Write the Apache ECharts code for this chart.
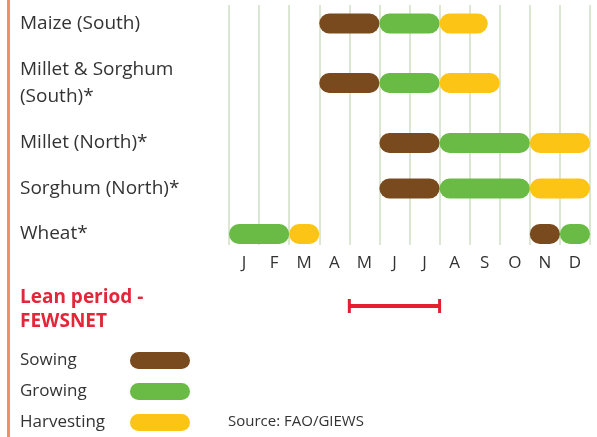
<!DOCTYPE html>
<html>
<head>
<meta charset="utf-8">
<script src="https://cdn.jsdelivr.net/npm/echarts@6/dist/echarts.min.js"></script>
<style>
html,body{margin:0;padding:0;background:#fff;}
#chart{width:597px;height:437px;}
</style>
</head>
<body>
<div id="chart"></div>
<script>
// ---- Data ----
const crops = ['Maize (South)', 'Millet & Sorghum\n(South)*', 'Millet (North)*', 'Sorghum (North)*', 'Wheat*'];
const months = ['J', 'F', 'M', 'A', 'M', 'J', 'J', 'A', 'S', 'O', 'N', 'D'];
// intervals in months (0 = start of January, 12 = end of December)
const sowing = [[[3, 5]], [[3, 5]], [[5, 7]], [[5, 7]], [[10, 11]]];
const growing = [[[5, 7]], [[5, 7]], [[7, 10]], [[7, 10]], [[0, 2], [11, 12]]];
const harvesting = [[[7, 8.6]], [[7, 9]], [[10, 12]], [[10, 12]], [[2, 3]]];
const leanPeriod = [4, 7];
const leanLabel = 'Lean period -\nFEWSNET';
const stageNames = ['Sowing', 'Growing', 'Harvesting'];
const source = 'Source: FAO/GIEWS';

// ---- Layout / style ----
const stageColors = ['#7a4a1f', '#69bb45', '#fcc515'];
const rowCenters = [23.5, 83, 143, 188.5, 234];
const leanCenter = 310;
const plotLeft = 229, plotRight = 7;
const barH = 20;
const FONT = 'Open Sans';

const chart = echarts.init(document.getElementById('chart'), null, {renderer: 'canvas'});

const grids = [{left: plotLeft, right: plotRight, top: 5, height: 240}];
const xAxes = [
  {gridIndex: 0, type: 'value', min: 0, max: 12, interval: 1,
   axisLine: {show: false}, axisTick: {show: false}, axisLabel: {show: false},
   splitLine: {show: true, lineStyle: {color: '#dce7d3', width: 2}}},
  {gridIndex: 0, type: 'category', data: months, position: 'bottom', boundaryGap: true,
   axisLine: {show: false}, axisTick: {show: false},
   axisLabel: {margin: 10, fontSize: 17, color: '#333', fontFamily: FONT}}
];
const yAxes = [{gridIndex: 0, type: 'value', show: false, min: 0, max: 1}];
const series = [];

function segRender(params, api) {
  const s = api.coord([api.value(0), api.value(2)]);
  const e = api.coord([api.value(1), api.value(2)]);
  return {
    type: 'rect',
    shape: {x: s[0], y: s[1] - barH / 2, width: e[0] - s[0], height: barH, r: barH / 2},
    style: {fill: api.visual('color')}
  };
}

const stages = [sowing, growing, harvesting];
crops.forEach((crop, i) => {
  const gi = grids.length;
  grids.push({left: plotLeft, right: plotRight, top: rowCenters[i] - barH / 2, height: barH});
  xAxes.push({gridIndex: gi, type: 'value', min: 0, max: 12, show: false});
  yAxes.push({gridIndex: gi, type: 'category', data: [crop],
    axisLine: {show: false}, axisTick: {show: false}, splitLine: {show: false},
    axisLabel: {align: 'left', margin: plotLeft - 20, fontSize: 19, lineHeight: 27,
      color: '#333', fontFamily: FONT}});
  const xi = xAxes.length - 1, yi = yAxes.length - 1;
  stages.forEach((st, k) => {
    series.push({
      type: 'custom', name: stageNames[k], xAxisIndex: xi, yAxisIndex: yi,
      itemStyle: {color: stageColors[k]},
      encode: {x: [0, 1], y: 2},
      renderItem: segRender,
      data: st[i].map(iv => [iv[0], iv[1], 0])
    });
  });
});

// lean period row
{
  const gi = grids.length;
  grids.push({left: plotLeft, right: plotRight, top: leanCenter - 10, height: 20});
  xAxes.push({gridIndex: gi, type: 'value', min: 0, max: 12, show: false});
  yAxes.push({gridIndex: gi, type: 'category', data: [leanLabel],
    axisLine: {show: false}, axisTick: {show: false}, splitLine: {show: false},
    axisLabel: {align: 'left', margin: plotLeft - 20, fontSize: 19, lineHeight: 24,
      fontWeight: 'bold', color: '#e3263a', fontFamily: FONT}});
  series.push({
    type: 'custom', name: 'Lean period', xAxisIndex: xAxes.length - 1, yAxisIndex: yAxes.length - 1,
    encode: {x: [0, 1], y: 2},
    renderItem: function (params, api) {
      const s = api.coord([api.value(0), api.value(2)]);
      const e = api.coord([api.value(1), api.value(2)]);
      const c = '#e3202f';
      const y = s[1] - 4;
      return {type: 'group', children: [
        {type: 'line', shape: {x1: s[0], y1: y, x2: e[0], y2: y}, style: {stroke: c, lineWidth: 4}},
        {type: 'line', shape: {x1: s[0], y1: y - 7, x2: s[0], y2: y + 7}, style: {stroke: c, lineWidth: 3}},
        {type: 'line', shape: {x1: e[0], y1: y - 7, x2: e[0], y2: y + 7}, style: {stroke: c, lineWidth: 3}}
      ]};
    },
    data: [[leanPeriod[0], leanPeriod[1], 0]]
  });
}

chart.setOption({
  animation: false,
  grid: grids,
  xAxis: xAxes,
  yAxis: yAxes,
  series: series,
  legend: {
    data: stageNames,
    orient: 'vertical', left: 20, top: 352, height: 90, padding: 0, align: 'right',
    itemWidth: 60, itemHeight: 17, itemGap: 14, selectedMode: false,
    icon: 'path://M8.5,0 L51.5,0 A8.5,8.5 0 0 1 51.5,17 L8.5,17 A8.5,8.5 0 0 1 8.5,0 Z',
    formatter: '{a|{name}}',
    textStyle: {fontSize: 17, color: '#333', fontFamily: FONT,
      rich: {a: {width: 105, align: 'left', fontSize: 17, lineHeight: 17, color: '#333', fontFamily: FONT}}}
  },
  graphic: [
    {type: 'rect', left: 7, top: 0, shape: {width: 3, height: 437}, style: {fill: '#f0905f'}},
    {type: 'text', left: 228, top: 414, style: {text: source, fontSize: 15, fontFamily: FONT, fill: '#333'}}
  ]
});
</script>
</body>
</html>
